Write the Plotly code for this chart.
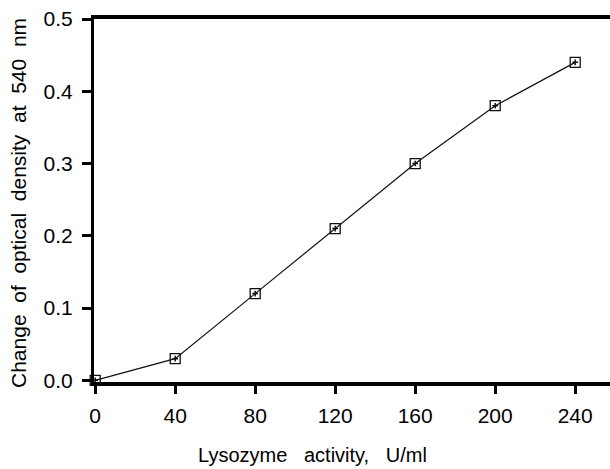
import plotly.graph_objects as go

activity = [0, 40, 80, 120, 160, 200, 240]
density = [0.0, 0.03, 0.12, 0.21, 0.30, 0.38, 0.44]
x_ticks = [0, 40, 80, 120, 160, 200, 240]
y_ticks = [0.0, 0.1, 0.2, 0.3, 0.4, 0.5]
y_tick_text = ["0.0", "0.1", "0.2", "0.3", "0.4", "0.5"]

NB = "\u00a0"
x_title = f"Lysozyme{NB*3}activity,{NB*3}U/ml"
y_title = f"Change{NB*2}of{NB*2}optical{NB*2}density{NB*2}at{NB*2}540{NB*2}nm"

FONT = "Liberation Sans, Arial, sans-serif"

W, H = 610, 469
ML, MR, MT, MB = 94, 0, 19, 87
PW, PH = W - ML - MR, H - MT - MB


def px_to_paper_x(px):
    return (px - ML) / PW


def px_to_paper_y(py):
    return (H - MB - py) / PH


fig = go.Figure()
fig.add_trace(go.Scatter(
    x=activity, y=density, mode="lines+markers",
    line=dict(color="#111111", width=1.2),
    marker=dict(symbol="square-open", size=10, color="#111111", line=dict(width=1.3)),
    cliponaxis=False, showlegend=False, hoverinfo="skip",
))
fig.add_trace(go.Scatter(
    x=activity, y=density, mode="markers",
    marker=dict(symbol="cross-thin-open", size=4, color="#111111", line=dict(width=1.5, color="#111111")),
    cliponaxis=False, showlegend=False, hoverinfo="skip",
))

fig.update_layout(
    width=W, height=H,
    margin=dict(l=ML, r=MR, t=MT, b=MB),
    paper_bgcolor="white", plot_bgcolor="white",
    font=dict(family=FONT, size=21, color="black"),
    xaxis=dict(
        range=[-0.6, 257.4], tickvals=x_ticks, ticktext=[str(v) for v in x_ticks],
        showgrid=False, zeroline=False, automargin=False,
        showline=True, linewidth=4, linecolor="black", mirror=True,
        ticks="outside", ticklen=8, tickwidth=3, tickcolor="black",
        tickfont=dict(size=21), ticklabelstandoff=4,
    ),
    yaxis=dict(
        range=[-0.0023, 0.5], tickvals=y_ticks, ticktext=y_tick_text,
        showgrid=False, zeroline=False, automargin=False,
        showline=True, linewidth=3, linecolor="black", mirror=False,
        ticks="outside", ticklen=9, tickwidth=3, tickcolor="black",
        tickfont=dict(size=21), ticklabelstandoff=5,
    ),
    annotations=[
        dict(text=x_title, xref="paper", yref="paper",
             x=px_to_paper_x(312), y=px_to_paper_y(455),
             xanchor="center", yanchor="middle", showarrow=False,
             font=dict(size=20, family=FONT, color="black")),
        dict(text=y_title, xref="paper", yref="paper", textangle=-90,
             x=px_to_paper_x(18), y=px_to_paper_y(203),
             xanchor="center", yanchor="middle", showarrow=False,
             font=dict(size=21, family=FONT, color="black")),
    ],
)

fig.write_html(
    "out.html",
    config={"displayModeBar": False},
    post_script="document.body.style.margin='0';document.body.style.overflow='hidden';",
)
